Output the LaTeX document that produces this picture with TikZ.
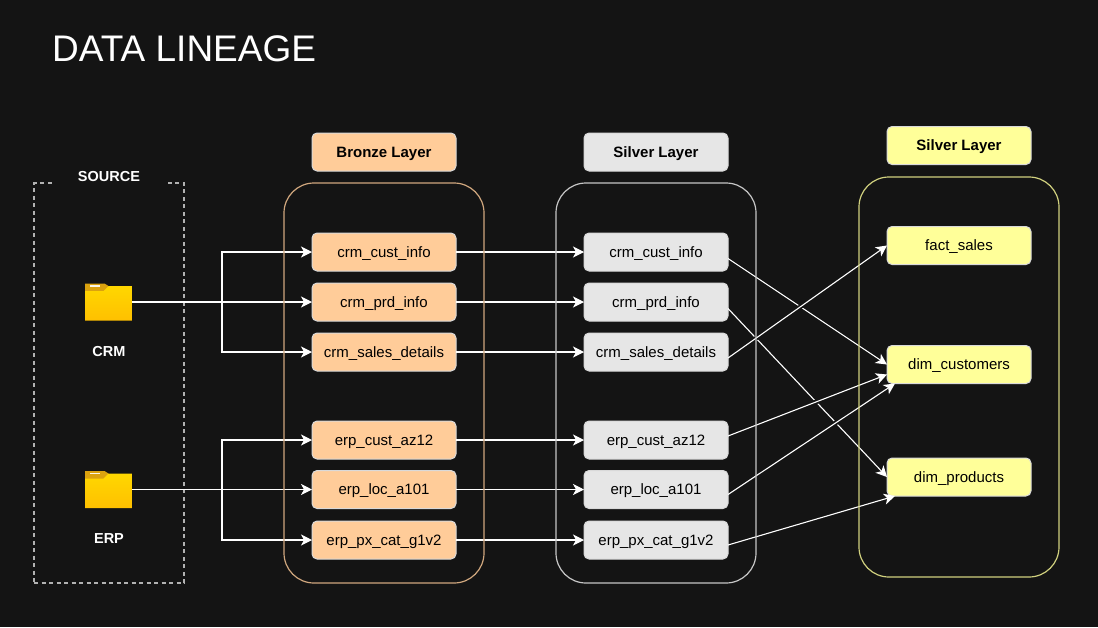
\documentclass[tikz,border=0pt]{standalone}
\usepackage{fontspec}
\setmainfont{Liberation Sans}
\usetikzlibrary{arrows.meta}
\definecolor{bgdark}{HTML}{141414}
\definecolor{bronzefill}{HTML}{FFCC99}
\definecolor{silverfill}{HTML}{E6E6E6}
\definecolor{goldfill}{HTML}{FFFF99}
\definecolor{folderback}{HTML}{DBA20F}
\definecolor{foldertop}{HTML}{FFD700}
\definecolor{folderlow}{HTML}{FFC000}
\tikzset{
  txt/.style={font=\fontsize{15}{17}\selectfont,text=black,text height=13pt,text depth=3pt},
  tablebox/.style={txt,draw=white!85!black,line width=1pt,rounded corners=5pt,minimum width=144pt,minimum height=38pt,inner sep=0pt,outer sep=0pt},
  headbox/.style={tablebox,font=\fontsize{15}{17}\selectfont\bfseries},
  layerbox/.style={rectangle,line width=1.2pt,rounded corners=30pt,minimum width=200pt,minimum height=400pt,outer sep=0pt},
  whitelabel/.style={text=white,font=\fontsize{14.5}{16}\selectfont\bfseries,inner sep=0pt},
  flow/.style={draw=white,line width=1.1pt,-{Stealth[length=11pt,width=11pt,inset=3pt]}},
  gapline/.style={draw=bgdark,line width=4.5pt,shorten >=25pt,shorten <=8pt},
  folder/.style={minimum width=47pt,minimum height=37pt,inner sep=0pt,outer sep=0pt,path picture={
    \fill[folderback] (-23.5,-18.5)--(-4,-18.5)--(0,-16)--(0,-10)--(-23.5,-10)--cycle;
    \shade[top color=foldertop,bottom color=folderlow] (-23.5,-11)--(-5,-11)--(0,-16)--(23.5,-16)--(23.5,18.5)--(-23.5,18.5)--cycle;
    \fill[white!90!folderback] (-18.5,-16.8) rectangle (-8.5,-15.5);}},
}
\begin{document}
\begin{tikzpicture}[x=1pt,y=-1pt]
  \useasboundingbox[fill=bgdark] (0,0) rectangle (1098,627);
  \node[anchor=west,text=white,font=\fontsize{37}{40}\selectfont,inner sep=0pt] (title) at (52,49) {DATA LINEAGE};

  % source side
  \node[draw=white!70!black,dashed,dash pattern=on 4pt off 3.5pt,line width=1.2pt,minimum width=150pt,minimum height=400pt,outer sep=0pt] (source) at (109,383) {};
  \node[whitelabel,fill=bgdark,minimum width=111pt,minimum height=14pt] (sourcelbl) at (109,177) {SOURCE};
  \node[folder] (crm) at (108.5,302) {};
  \node[whitelabel] (crmlbl) at (109,352) {CRM};
  \node[folder] (erp) at (108.5,489.5) {};
  \node[whitelabel] (erplbl) at (109,539) {ERP};

  % headers
  \node[headbox,fill=bronzefill] (bronzehead) at (384,152) {Bronze Layer};
  \node[headbox,fill=silverfill] (silverhead) at (656,152) {Silver Layer};
  \node[headbox,fill=goldfill] (goldhead) at (959,145.5) {Silver Layer};

  % tables
  \foreach \n/\yy/\lab in {1/252/crm\_cust\_info,2/302/crm\_prd\_info,3/352/crm\_sales\_details,4/440/erp\_cust\_az12,5/489.5/erp\_loc\_a101,6/540/erp\_px\_cat\_g1v2}{
    \node[tablebox,fill=bronzefill] (b\n) at (384,\yy) {\lab};
    \node[tablebox,fill=silverfill] (s\n) at (656,\yy) {\lab};
    \draw[flow] (b\n.east)--(s\n.west);
  }
  \node[tablebox,fill=goldfill] (fact) at (959,245.5) {fact\_sales};
  \node[tablebox,fill=goldfill] (dimcust) at (959,364.5) {dim\_customers};
  \node[tablebox,fill=goldfill] (dimprod) at (959,477) {dim\_products};

  % source to bronze
  \coordinate (crmelbow) at (222,302);
  \coordinate (erpelbow) at (222,489.5);
  \draw[flow] (crm.east)--(b2.west);
  \draw[flow] (crmelbow)|-(b1.west);
  \draw[flow] (crmelbow)|-(b3.west);
  \draw[flow] (erp.east)--(b5.west);
  \draw[flow] (erpelbow)|-(b4.west);
  \draw[flow] (erpelbow)|-(b6.west);

  % silver to gold
  \coordinate (s1out) at ([yshift=-6.5pt]s1.east);
  \coordinate (s2out) at ([yshift=-6.5pt]s2.east);
  \coordinate (s3out) at ([yshift=-6pt]s3.east);
  \coordinate (s4out) at ([yshift=4pt]s4.east);
  \coordinate (s5out) at ([yshift=-5pt]s5.east);
  \coordinate (s6out) at ([yshift=-5pt]s6.east);
  \coordinate (custlow) at ([yshift=-10pt]dimcust.west);
  \coordinate (custcorner) at ([xshift=8pt,yshift=-19pt]dimcust.west);
  \coordinate (prodcorner) at ([xshift=8pt,yshift=-19pt]dimprod.west);
  \draw[flow] (s1out)--(dimcust.west);
  \draw[flow] (s2out)--(dimprod.west);
  \foreach \from/\to in {s3out/fact.west,s4out/custlow,s5out/custcorner,s6out/prodcorner}{
    \path[gapline] (\from)--(\to);
  }
  \foreach \from/\to in {s3out/fact.west,s4out/custlow,s5out/custcorner,s6out/prodcorner}{
    \draw[flow] (\from)--(\to);
  }

  % layer outlines
  \node[layerbox,draw=bronzefill!80!bgdark] (bronzelayer) at (384,383) {};
  \node[layerbox,draw=silverfill!85!bgdark] (silverlayer) at (656,383) {};
  \node[layerbox,draw=goldfill!80!bgdark] (goldlayer) at (959,377) {};
\end{tikzpicture}
\end{document}
